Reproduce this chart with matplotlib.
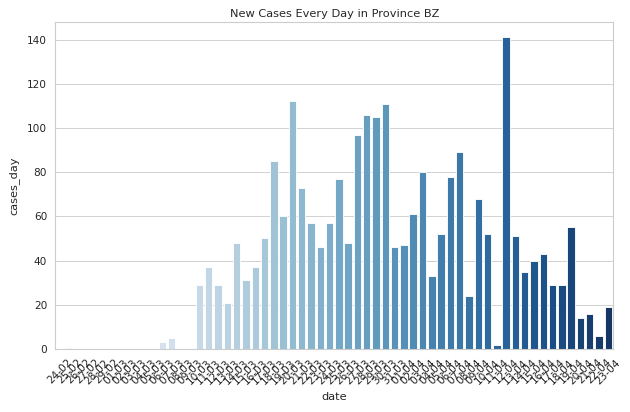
import matplotlib
matplotlib.use("Agg")
import matplotlib.pyplot as plt
import seaborn as sns
import pandas as pd
import numpy as np

dates = (["24-02", "25-02", "26-02", "27-02", "28-02", "29-02"]
         + ["%02d-03" % d for d in range(1, 32)]
         + ["%02d-04" % d for d in range(1, 24)])

feb_vals = [0, 1, 0, 0, 0, 0]
mar_vals = [0, 0, 0, 0, 0, 3, 5, 0, 0, 29, 37, 29, 21, 48, 31, 37, 50, 85, 60, 112,
            73, 57, 46, 57, 77, 48, 97, 106, 105, 111, 46]
apr_vals = [47, 61, 80, 33, 52, 78, 89, 24, 68, 52, 2, 141, 51, 35, 40, 43, 29, 29,
            55, 14, 16, 6, 19]
cases_day = feb_vals + mar_vals + apr_vals

df = pd.DataFrame({"date": dates, "cases_day": cases_day})

sns.set_theme(style="whitegrid", context="notebook")
fig = plt.figure(figsize=(10, 6.54), dpi=63)
ax = fig.add_axes([0.088, 0.153, 0.885, 0.794])
sns.barplot(data=df, x="date", y="cases_day", hue="date", legend=False,
            palette=sns.color_palette("Blues", len(dates)), ax=ax)
ax.set_title("New Cases Every Day in Province BZ", fontsize=13)
ax.set_xlabel("date", fontsize=13, labelpad=7)
ax.set_ylabel("cases_day", fontsize=13, labelpad=9)
ax.tick_params(axis="both", labelsize=12)
plt.setp(ax.get_xticklabels(), rotation=45)
ax.set_ylim(0, 148)
ax.set_yticks([0, 20, 40, 60, 80, 100, 120, 140])
fig.savefig("out.png", dpi=63)
